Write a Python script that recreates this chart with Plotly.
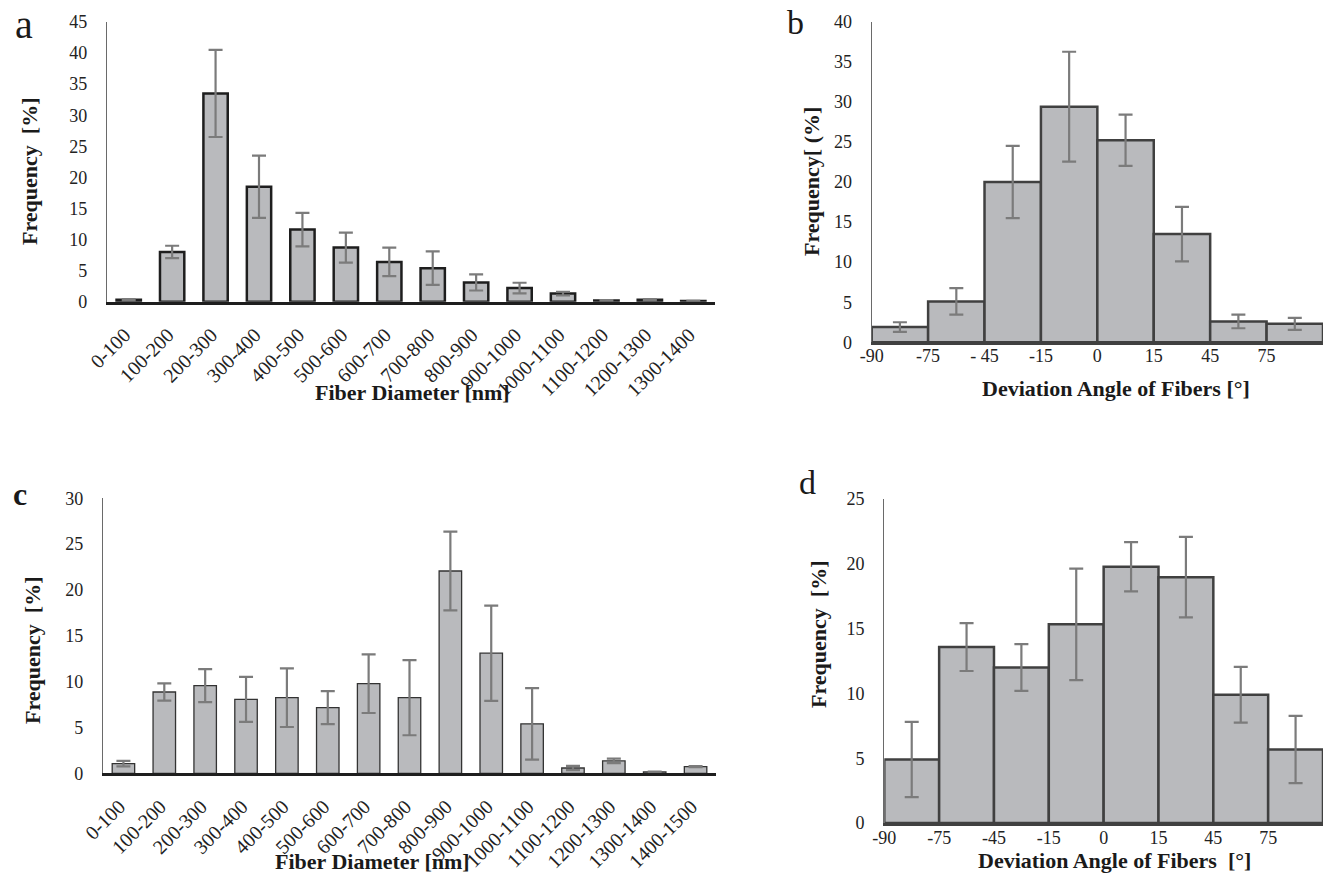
import plotly.graph_objects as go

# ---------------- data ----------------
cat_a = ["0-100", "100-200", "200-300", "300-400", "400-500", "500-600", "600-700",
         "700-800", "800-900", "900-1000", "1000-1100", "1100-1200", "1200-1300", "1300-1400"]
val_a = [0.3, 8.0, 33.5, 18.5, 11.6, 8.7, 6.4, 5.4, 3.1, 2.2, 1.3, 0.2, 0.3, 0.1]
err_a = [0.1, 1.0, 7.0, 5.0, 2.7, 2.4, 2.3, 2.7, 1.3, 0.85, 0.3, 0.05, 0.1, 0.02]

ticks_b = ["-90", "-75", "- 45", "-15", "0", "15", "45", "75"]
val_b = [1.9, 5.1, 20.0, 29.4, 25.2, 13.5, 2.6, 2.3]
err_b = [0.6, 1.65, 4.5, 6.85, 3.2, 3.4, 0.85, 0.75]

cat_c = ["0-100", "100-200", "200-300", "300-400", "400-500", "500-600", "600-700",
         "700-800", "800-900", "900-1000", "1000-1100", "1100-1200", "1200-1300",
         "1300-1400", "1400-1500"]
val_c = [1.05, 8.87, 9.56, 8.07, 8.25, 7.16, 9.78, 8.25, 22.07, 13.1, 5.4, 0.58, 1.35, 0.15, 0.73]
err_c = [0.3, 0.95, 1.8, 2.45, 3.2, 1.8, 3.2, 4.1, 4.3, 5.2, 3.9, 0.24, 0.25, 0.03, 0.05]

ticks_d = ["-90", "-75", "-45", "-15", "0", "15", "45", "75"]
val_d = [4.9, 13.58, 12.0, 15.33, 19.77, 18.97, 9.9, 5.67]
err_d = [2.9, 1.85, 1.8, 4.3, 1.9, 3.1, 2.15, 2.6]

# ---------------- style ----------------
W, H = 1323, 874
FONT = "Liberation Serif"
FILL = "#b9babd"
ERRC = "#7b7b7b"


def px(x):
    return x / W


def py(y):
    return 1 - y / H


fig = go.Figure()

# panel a
fig.add_trace(go.Bar(
    x=cat_a, y=val_a, width=0.56, xaxis="x", yaxis="y",
    marker=dict(color=FILL, line=dict(color="#1e1e1e", width=2.5)),
    error_y=dict(type="data", array=err_a, color=ERRC, thickness=2.2, width=7),
))
# panel b
fig.add_trace(go.Bar(
    x=[i + 0.5 for i in range(len(val_b))], y=val_b, width=1, xaxis="x2", yaxis="y2",
    marker=dict(color=FILL, line=dict(color="#404040", width=2.5)),
    error_y=dict(type="data", array=err_b, color=ERRC, thickness=2.2, width=7),
))
# panel c
fig.add_trace(go.Bar(
    x=cat_c, y=val_c, width=0.55, xaxis="x3", yaxis="y3",
    marker=dict(color=FILL, line=dict(color="#333333", width=1.3)),
    error_y=dict(type="data", array=err_c, color=ERRC, thickness=2.2, width=7),
))
# panel d
fig.add_trace(go.Bar(
    x=[i + 0.5 for i in range(len(val_d))], y=val_d, width=1, xaxis="x4", yaxis="y4",
    marker=dict(color=FILL, line=dict(color="#404040", width=2.5)),
    error_y=dict(type="data", array=err_d, color=ERRC, thickness=2.2, width=7),
))
# invisible helpers so the edge-label axes of b and d are drawn
fig.add_trace(go.Scatter(x=[0], y=[0], xaxis="x5", yaxis="y2", mode="markers",
                         marker=dict(opacity=0), hoverinfo="skip"))
fig.add_trace(go.Scatter(x=[0], y=[0], xaxis="x6", yaxis="y4", mode="markers",
                         marker=dict(opacity=0), hoverinfo="skip"))

tickfont = dict(family=FONT, size=18, color="#222")
catfont = dict(family=FONT, size=20, color="#222")


def yax(domain, top, anchor):
    return dict(domain=domain, range=[0, top], dtick=5, anchor=anchor, automargin=False,
                showline=True, linecolor="#6a6a6a", linewidth=1.2,
                showgrid=False, zeroline=False,
                ticks="outside", ticklen=15, tickcolor="rgba(0,0,0,0)",
                tickfont=tickfont, fixedrange=True)


def xcat(domain, n, anchor):
    return dict(domain=domain, type="category", range=[-0.5, n - 0.5], anchor=anchor,
                automargin=False,
                showline=True, linecolor="#1e1e1e", linewidth=2.5,
                showgrid=False, zeroline=False, tickangle=-45,
                ticks="outside", ticklen=11, tickcolor="rgba(0,0,0,0)",
                ticklabelshift=-4,
                tickfont=catfont)


def xbin(domain, anchor):
    return dict(domain=domain, range=[0, 8], anchor=anchor, automargin=False,
                showline=True, linecolor="#404040", linewidth=3,
                showgrid=False, zeroline=False, showticklabels=False,
                ticks="")


def xlab(over, labels, ypix):
    return dict(overlaying=over, range=[0, 8], anchor="free", position=py(ypix),
                automargin=False, showline=False, showgrid=False, zeroline=False,
                tickmode="array", tickvals=list(range(len(labels))), ticktext=labels,
                ticks="", tickfont=tickfont, fixedrange=True)


fig.update_layout(
    width=W, height=H,
    margin=dict(l=0, r=0, t=0, b=0, autoexpand=False),
    paper_bgcolor="white", plot_bgcolor="rgba(0,0,0,0)",
    showlegend=False,
    font=dict(family=FONT, color="#222"),
    xaxis=xcat([px(107), px(715)], len(cat_a), "y"),
    yaxis=yax([py(301.7), py(22)], 45, "x"),
    xaxis2=xbin([px(871.7), 1.0], "y2"),
    yaxis2=yax([py(342.3), py(21.7)], 40, "x2"),
    xaxis3=xcat([px(103), px(716)], len(cat_c), "y3"),
    yaxis3=yax([py(773.3), py(498.3)], 30, "x3"),
    xaxis4=xbin([px(884.3), 1.0], "y4"),
    yaxis4=yax([py(823), py(499)], 25, "x4"),
    xaxis5=xlab("x2", ticks_b, 342.5),
    xaxis6=xlab("x4", ticks_d, 824.5),
)

ann = []


def text(x, y, s, size, bold=False, angle=0):
    ann.append(dict(x=px(x), y=py(y), xref="paper", yref="paper",
                    text=("<b>" + s + "</b>") if bold else s,
                    showarrow=False, xanchor="center", yanchor="middle",
                    textangle=angle,
                    font=dict(family=FONT, size=size, color="#1a1a1a")))


# panel letters
text(24, 24, "a", 40)
text(795, 22, "b", 34)
text(20, 494, "<b>c</b>", 32)
text(808, 482, "d", 34)

# y titles
text(29, 172, "Frequency\u00a0\u00a0[%]", 22, bold=True, angle=-90)
text(811, 182, "Frequency[ (%]", 22, bold=True, angle=-90)
text(32, 651, "Frequency\u00a0\u00a0[%]", 22, bold=True, angle=-90)
text(818, 635, "Frequency\u00a0\u00a0[%]", 22, bold=True, angle=-90)

# x titles
text(412, 393, "Fiber Diameter [nm]", 22, bold=True)
text(1116, 388, "Deviation Angle of Fibers [°]", 22, bold=True)
text(372, 861, "Fiber Diameter [nm]", 22, bold=True)
text(1114, 860, "Deviation Angle of Fibers\u00a0\u00a0[°]", 22, bold=True)

fig.update_layout(annotations=ann)

fig.write_html(
    "out.html",
    config={"displayModeBar": False},
    post_script="document.body.style.margin='0';document.body.style.overflow='hidden';",
)
